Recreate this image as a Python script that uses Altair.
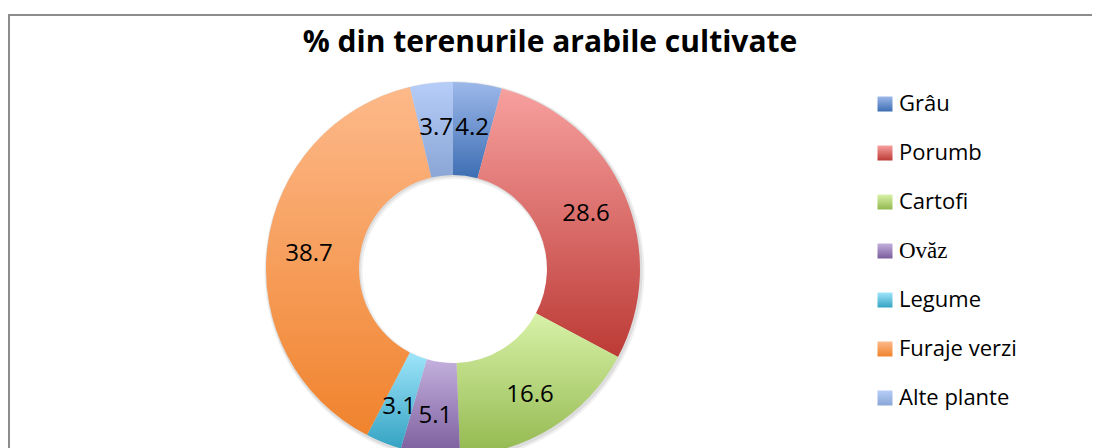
import altair as alt
import pandas as pd

categories = ["Grâu", "Porumb", "Cartofi", "Ovăz", "Legume", "Furaje verzi", "Alte plante"]
values = [4.2, 28.6, 16.6, 5.1, 3.1, 38.7, 3.7]
top_colors = ["#9db8ea", "#f7a09e", "#d8f2a8", "#c3b0dd", "#9ee5fa", "#fdb98a", "#b6cdf8"]
bottom_colors = ["#3d6eb3", "#bc3a36", "#93b84f", "#7a5c9c", "#35a3c3", "#f0832d", "#8aa6d6"]

df = pd.DataFrame({"cat": categories, "val": values, "idx": list(range(len(categories)))})
frame_df = pd.DataFrame({"k": [0]})

W, H = 1084, 460
CX, CY = 445, 255
R_OUT, R_IN = 187, 94


def grad(top, bottom):
    return {
        "gradient": "linear", "x1": 0, "y1": 0, "x2": 0, "y2": 1,
        "stops": [{"offset": 0, "color": top}, {"offset": 1, "color": bottom}],
    }


conds = [{"test": "datum.cat === '%s'" % c, "value": grad(t, b)}
         for c, t, b in zip(categories[:-1], top_colors[:-1], bottom_colors[:-1])]


def fill_enc():
    return alt.FillValue(value=grad(top_colors[-1], bottom_colors[-1]), condition=conds)


# soft shadow behind the ring
shadow_outer = alt.Chart(frame_df).mark_arc(
    radius=R_OUT + 3, radius2=R_IN - 2, fill="#000000", opacity=0.06
).encode(theta=alt.value(0), theta2=alt.value(6.2832), x=alt.value(CX + 1.5), y=alt.value(CY + 2))
shadow_inner = alt.Chart(frame_df).mark_arc(
    radius=R_OUT + 1.5, radius2=R_IN - 0.5, fill="#000000", opacity=0.08
).encode(theta=alt.value(0), theta2=alt.value(6.2832), x=alt.value(CX + 1), y=alt.value(CY + 1.5))

base = alt.Chart(df).encode(
    theta=alt.Theta("val:Q", stack=True),
    order=alt.Order("idx:Q"),
)

arcs = base.mark_arc(radius=R_OUT, radius2=R_IN).encode(
    fill=fill_enc(),
    x=alt.value(CX), y=alt.value(CY),
)

labels = base.mark_text(radius=145, dy=3, font="Open Sans", fontSize=24, color="black").encode(
    text=alt.Text("val:Q", format=".1f"),
    x=alt.value(CX), y=alt.value(CY),
)

leg_y = alt.Y("cat:N", sort=categories, axis=None,
              scale=alt.Scale(type="point", range=[90, 384], padding=0))

leg_base = alt.Chart(df).encode(y=leg_y)

leg_sym = leg_base.mark_square(size=225, opacity=1, strokeWidth=0).encode(
    x=alt.value(877), fill=fill_enc(),
)

leg_txt = leg_base.mark_text(align="left", baseline="middle", font="Open Sans",
                             fontSize=22, color="black").encode(
    x=alt.value(891), text="cat:N",
).transform_filter("datum.cat !== 'Ovăz'")

leg_txt_serif = leg_base.mark_text(align="left", baseline="middle", font="Liberation Serif",
                                   fontSize=23, color="black").encode(
    x=alt.value(891), text="cat:N",
).transform_filter("datum.cat === 'Ovăz'")

frame_top = alt.Chart(frame_df).mark_rule(color="#8c8c8c", strokeWidth=2).encode(
    x=alt.value(0), x2=alt.value(W), y=alt.value(1),
)
frame_left = alt.Chart(frame_df).mark_rule(color="#8c8c8c", strokeWidth=2).encode(
    x=alt.value(1), y=alt.value(0), y2=alt.value(H),
)

chart = alt.layer(
    frame_top, frame_left, shadow_outer, shadow_inner, arcs, labels, leg_sym, leg_txt, leg_txt_serif
).properties(
    width=W, height=H,
    title=alt.TitleParams(
        "% din terenurile arabile cultivate", font="Open Sans", fontSize=30,
        fontWeight="bold", anchor="middle", offset=-40, baseline="alphabetic", dy=29, color="black",
    ),
    autosize=alt.AutoSizeParams(type="none"),
    padding={"left": 0, "top": 6, "right": 0, "bottom": 0},
).configure_view(stroke=None).configure(background="white")

chart.save("out.html", embed_options={"renderer": "svg", "actions": False})
